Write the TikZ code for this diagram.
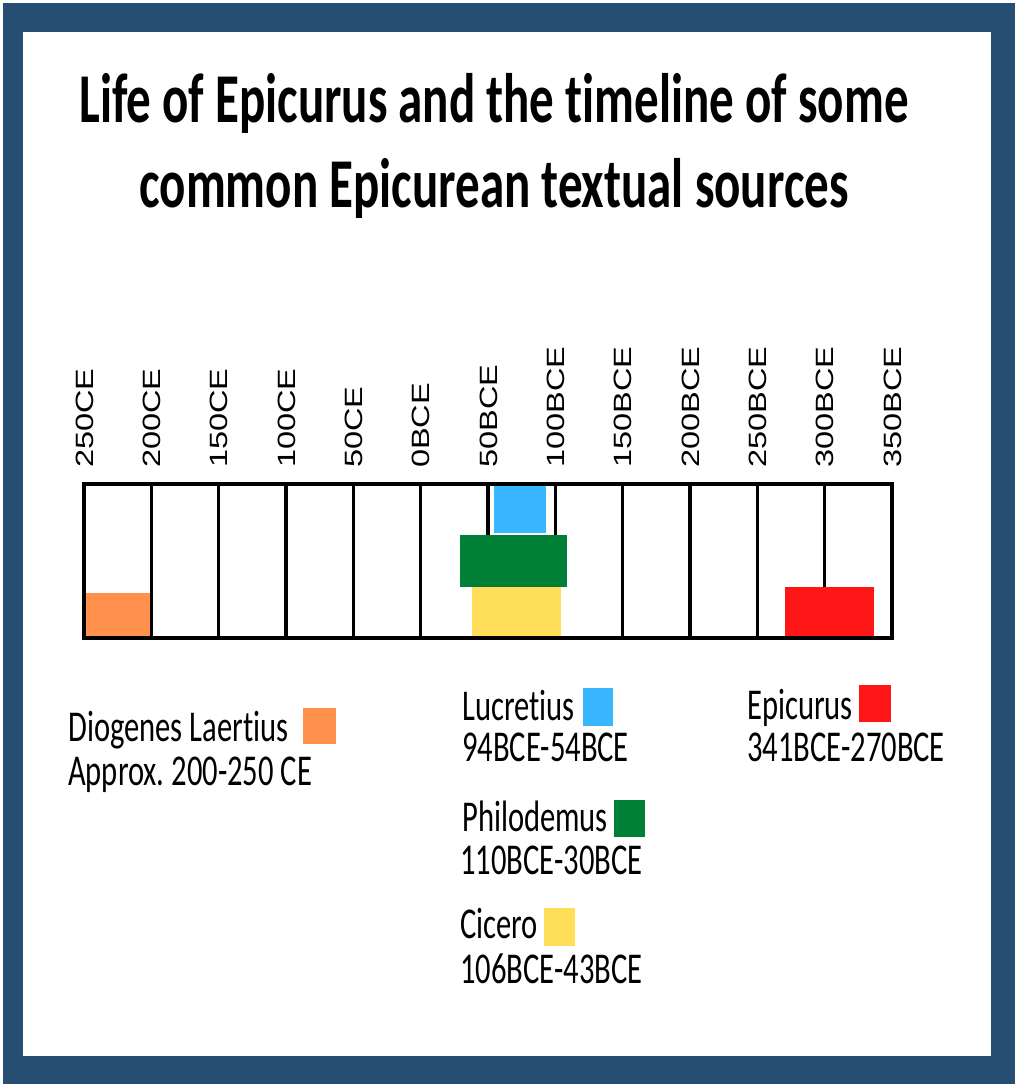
\documentclass[tikz,border=0pt]{standalone}
\usepackage{fontspec}
\newfontfamily\titlefont{Carlito}[FakeStretch=0.7,Ligatures=NoCommon]
\newfontfamily\legfont{Carlito}[FakeStretch=0.695,Ligatures=NoCommon]
\newfontfamily\tickfont{Liberation Sans}[FakeStretch=1.3]
\definecolor{framec}{HTML}{264E73}
\definecolor{orangec}{HTML}{FF914D}
\definecolor{bluec}{HTML}{38B6FF}
\definecolor{greenc}{HTML}{008037}
\definecolor{yellowc}{HTML}{FFDE59}
\definecolor{redc}{HTML}{FF1616}
\tikzset{
  titletext/.style={anchor=base, inner sep=0pt, font=\titlefont\bfseries\fontsize{70}{70}\selectfont},
  legtext/.style={anchor=base west, inner sep=0pt, font=\legfont\fontsize{44}{44}\selectfont},
  ticklabel/.style={rotate=90, anchor=base west, inner sep=0pt, font=\tickfont\fontsize{25}{25}\selectfont},
  gridline/.style={line width=3.5pt, black},
  outerbox/.style={line width=4.5pt, black},
  swatch/.style={inner sep=0pt, anchor=north west}
}
\begin{document}
\begin{tikzpicture}[x=1pt,y=-1pt]
\useasboundingbox (0,0) rectangle (1015,1084);
\fill[white] (0,0) rectangle (1015,1084);
\fill[framec] (3,3) rectangle (1015,1084);
\fill[white] (23,32) rectangle (991,1056);

% title
\node[titletext] (title1) at (494,122) {Life of Epicurus and the timeline of some};
\node[titletext] (title2) at (494,207) {common Epicurean textual sources};

% grid lines
\foreach \i in {1,...,11} {
  \coordinate (top\i) at ({84+67.333*\i},484);
  \coordinate (bot\i) at ({84+67.333*\i},638);
  \draw[gridline] (top\i) -- (bot\i);
}

% bars
\fill[orangec] (84,593) rectangle (150,637);
\fill[bluec] (494,484) rectangle (546,533);
\fill[greenc] (460,535) rectangle (567,587);
\fill[yellowc] (472,587) rectangle (561,637);
\fill[redc] (785,587) rectangle (874,637);

% outer box
\coordinate (boxnw) at (84,484);
\coordinate (boxse) at (892,638);
\draw[outerbox] (boxnw) rectangle (boxse);

% tick labels
\foreach \lab [count=\i from 0] in {250CE,200CE,150CE,100CE,50CE,0BCE,50BCE,100BCE,150BCE,200BCE,250BCE,300BCE,350BCE} {
  \node[ticklabel] (lab\i) at ({84+67.333*\i+9},468) {\lab};
}

% legend
\node[legtext] (dlname) at (68,741) {Diogenes Laertius};
\node[legtext] (dldate) at (68,785) {Approx.\ 200-250 CE};
\fill[orangec] (303,708) rectangle (336,744);

\node[legtext] (luname) at (462,720) {Lucretius};
\node[legtext] (ludate) at (462,761) {94BCE-54BCE};
\fill[bluec] (583,688) rectangle (613,726);

\node[legtext] (epname) at (747,719) {Epicurus};
\node[legtext] (epdate) at (747,761) {341BCE-270BCE};
\fill[redc] (859,685) rectangle (891,722);

\node[legtext] (phname) at (462,831) {Philodemus};
\node[legtext] (phdate) at (460,874) {110BCE-30BCE};
\fill[greenc] (614,800) rectangle (645,837);

\node[legtext] (ciname) at (460,938) {Cicero};
\node[legtext] (cidate) at (460,983) {106BCE-43BCE};
\fill[yellowc] (544,908) rectangle (575,946);
\end{tikzpicture}
\end{document}
